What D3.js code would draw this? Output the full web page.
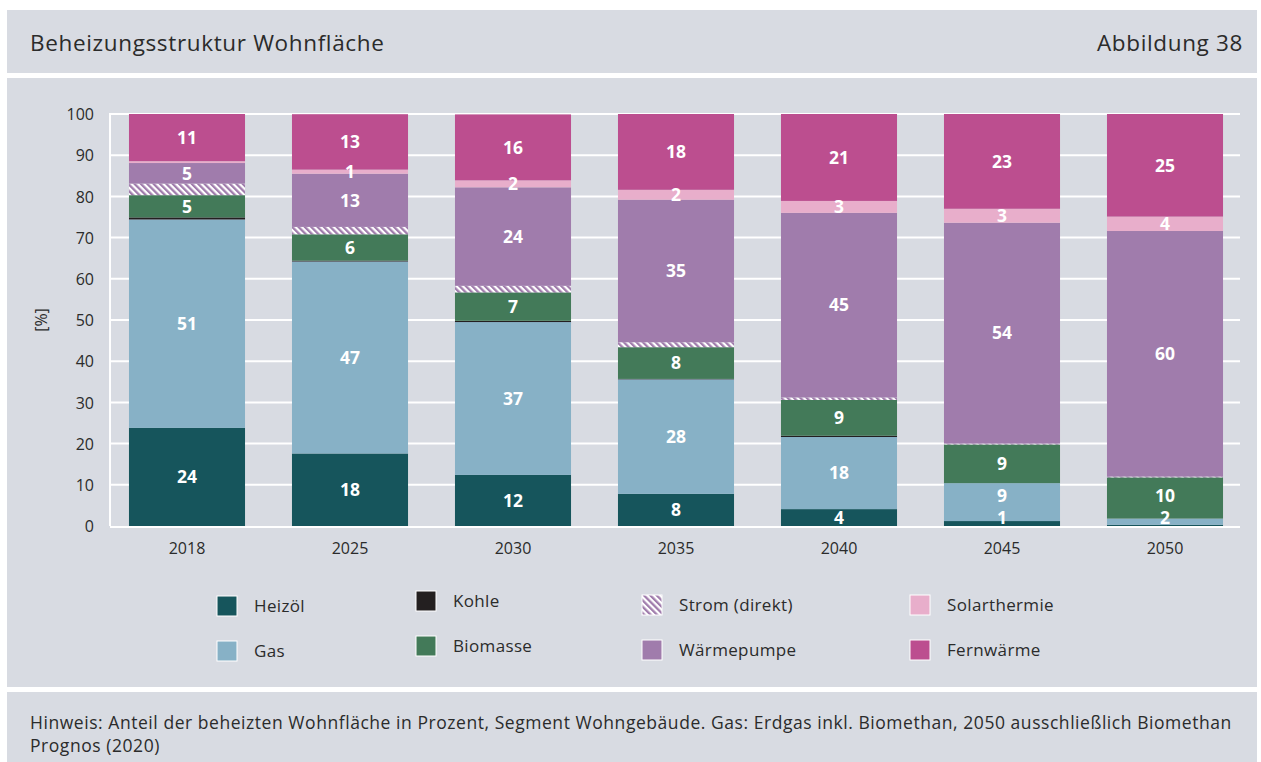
<!DOCTYPE html>
<html lang="de">
<head>
<meta charset="utf-8">
<script src="https://cdn.jsdelivr.net/npm/d3@7"></script>
<style>
  html, body { margin: 0; padding: 0; background: #ffffff; }
  svg { display: block; }
  text { font-family: "Open Sans", Roboto, sans-serif; }
</style>
</head>
<body>
<svg id="chart" width="1261" height="762"></svg>
<script>
// Beheizungsstruktur Wohnfläche — Anteile in Prozent
const years = ["2018", "2025", "2030", "2035", "2040", "2045", "2050"];
const carriers = ["Heizöl", "Gas", "Kohle", "Biomasse", "Strom (direkt)", "Wärmepumpe", "Solarthermie", "Fernwärme"];

const heizoel      = [23.8, 17.6, 12.4,  7.8,  4.1,  1.2,  0.3];
const gas          = [50.6, 46.6, 37.1, 27.8, 17.5,  9.2,  1.5];
const kohle        = [ 0.5,  0.2,  0.3,  0.1,  0.3,  0.0,  0.0];
const biomasse     = [ 5.4,  6.4,  6.9,  7.7,  8.7,  9.4, 10.0];
const stromDirekt  = [ 2.8,  1.8,  1.6,  1.2,  0.6,  0.2,  0.2];
const waermepumpe  = [ 5.0, 12.9, 23.9, 34.6, 44.8, 53.6, 59.6];
const solarthermie = [ 0.45, 1.0,  1.7,  2.4,  2.9,  3.4,  3.5];
const fernwaerme   = [11.45, 13.45, 16.0, 18.4, 21.1, 23.0, 24.9];

const yTicks = [0, 10, 20, 30, 40, 50, 60, 70, 80, 90, 100];

const seriesValues = [heizoel, gas, kohle, biomasse, stromDirekt, waermepumpe, solarthermie, fernwaerme];
const colors = ["#16555c", "#87b1c6", "#231f20", "#437a59", "url(#hatch)", "#a07cac", "#e8aecb", "#bc4e8f"];
const showLabel = [true, true, false, true, false, true, true, true];

const rows = years.map((yr, i) => {
  const r = { year: yr };
  carriers.forEach((c, k) => { r[c] = seriesValues[k][i]; });
  return r;
});
const stacked = d3.stack().keys(carriers)(rows);

const svg = d3.select("#chart");
const panelFill = "#d8dbe2";
const textColor = "#2b2b2b";

// Hatched fill for direct electric heating
const defs = svg.append("defs");
const pat = defs.append("pattern")
  .attr("id", "hatch")
  .attr("patternUnits", "userSpaceOnUse")
  .attr("width", 4.5).attr("height", 4.5)
  .attr("patternTransform", "rotate(-45)");
pat.append("rect").attr("width", 4.5).attr("height", 4.5).attr("fill", "#ffffff");
pat.append("rect").attr("x", 0).attr("width", 2.3).attr("height", 4.5).attr("fill", "#a07cac");

// Panels
svg.append("rect").attr("x", 7).attr("y", 10).attr("width", 1250).attr("height", 63).attr("fill", panelFill);
svg.append("rect").attr("x", 7).attr("y", 78).attr("width", 1250).attr("height", 609).attr("fill", panelFill);
svg.append("rect").attr("x", 7).attr("y", 692).attr("width", 1250).attr("height", 70).attr("fill", panelFill);

svg.append("text").attr("x", 30).attr("y", 51)
  .attr("font-size", 22.5).attr("letter-spacing", 0.65).attr("fill", textColor)
  .text("Beheizungsstruktur Wohnfläche");
svg.append("text").attr("x", 1243).attr("y", 51)
  .attr("font-size", 22.5).attr("letter-spacing", 0.65).attr("fill", textColor).attr("text-anchor", "end")
  .text("Abbildung 38");

// Scales
const x = d3.scaleBand().domain(years).range([105.5, 1246.5]).paddingInner(0.288).paddingOuter(0.144);
const y = d3.scaleLinear().domain([0, 100]).range([526, 114]);

// Gridlines
const grid = svg.append("g");
grid.selectAll("line").data(yTicks.filter(t => t > 0)).join("line")
  .attr("x1", 110).attr("x2", 1240)
  .attr("y1", d => y(d)).attr("y2", d => y(d))
  .attr("stroke", "#ffffff").attr("stroke-width", 2);
grid.append("line").attr("x1", 110).attr("x2", 110).attr("y1", y(100) - 1).attr("y2", y(0))
  .attr("stroke", "#ffffff").attr("stroke-width", 2);

// Y axis labels
const yAxis = d3.axisLeft(y).tickValues(yTicks).tickSize(0).tickPadding(0);
const yg = svg.append("g").attr("transform", "translate(94,0)").call(yAxis);
yg.select(".domain").remove();
yg.selectAll("text").attr("font-size", 16).attr("fill", textColor)
  .attr("font-family", "'Open Sans', sans-serif").attr("dy", "0.35em");

svg.append("text")
  .attr("transform", `translate(47,${y(50)}) rotate(-90)`)
  .attr("text-anchor", "middle").attr("font-size", 16).attr("fill", textColor)
  .text("[%]");

// Bars
const barG = svg.append("g");
stacked.forEach((layer, k) => {
  barG.append("g").attr("fill", colors[k])
    .selectAll("rect").data(layer).join("rect")
    .attr("x", d => x(d.data.year))
    .attr("width", x.bandwidth())
    .attr("y", d => y(d[1]))
    .attr("height", d => Math.max(0, y(d[0]) - y(d[1])));
});

// Bottom axis line
svg.append("line").attr("x1", 110).attr("x2", 1240).attr("y1", y(0) + 1).attr("y2", y(0) + 1)
  .attr("stroke", "#ffffff").attr("stroke-width", 2);

// Value labels, placed bottom-up per bar so small segments don't collide
const labels = [];
years.forEach((yr, i) => {
  let prev = Infinity;
  stacked.forEach((layer, k) => {
    if (!showLabel[k]) return;
    const d = layer[i];
    const v = d[1] - d[0];
    if (Math.round(v) < 1) return;
    let cy = Math.min((y(d[0]) + y(d[1])) / 2, y(0) - 8);
    if (cy > prev - 22) cy = prev - 22;
    prev = cy;
    labels.push({ year: yr, cy, text: String(Math.round(v)) });
  });
});
barG.append("g").selectAll("text").data(labels).join("text")
  .attr("x", d => x(d.year) + x.bandwidth() / 2)
  .attr("y", d => d.cy)
  .attr("dy", "0.36em")
  .attr("text-anchor", "middle")
  .attr("font-family", "Roboto, sans-serif")
  .attr("font-size", 17.5).attr("font-weight", 700).attr("fill", "#ffffff")
  .text(d => d.text);

// X axis labels
const xAxis = d3.axisBottom(x).tickSize(0).tickPadding(0);
const xg = svg.append("g").attr("transform", `translate(0,${y(0) + 17})`).call(xAxis);
xg.select(".domain").remove();
xg.selectAll("text").attr("font-size", 16).attr("fill", textColor)
  .attr("font-family", "'Open Sans', sans-serif").attr("dy", "0.7em");

// Legend
const legendItems = [
  { key: "Heizöl", sx: 217, sy: 596 },
  { key: "Gas", sx: 217, sy: 641 },
  { key: "Kohle", sx: 416, sy: 591 },
  { key: "Biomasse", sx: 416, sy: 636 },
  { key: "Strom (direkt)", sx: 642, sy: 595 },
  { key: "Wärmepumpe", sx: 642, sy: 640 },
  { key: "Solarthermie", sx: 910, sy: 595 },
  { key: "Fernwärme", sx: 910, sy: 640 }
];
const lg = svg.append("g").selectAll("g").data(legendItems).join("g")
  .attr("transform", d => `translate(${d.sx},${d.sy})`);
lg.append("rect").attr("width", 20).attr("height", 20)
  .attr("fill", d => colors[carriers.indexOf(d.key)])
  .attr("stroke", "#ffffff").attr("stroke-width", 1);
lg.append("text").attr("x", 37).attr("y", 10).attr("dy", "0.36em")
  .attr("font-size", 17).attr("letter-spacing", 0.35).attr("fill", textColor)
  .text(d => d.key);

// Footer notes
svg.append("text").attr("x", 30).attr("y", 729).attr("font-size", 17.5).attr("letter-spacing", 0.55).attr("fill", textColor)
  .text("Hinweis: Anteil der beheizten Wohnfläche in Prozent, Segment Wohngebäude. Gas: Erdgas inkl. Biomethan, 2050 ausschließlich Biomethan");
svg.append("text").attr("x", 30).attr("y", 752).attr("font-size", 17.5).attr("letter-spacing", 0.55).attr("fill", textColor)
  .text("Prognos (2020)");
</script>
</body>
</html>
